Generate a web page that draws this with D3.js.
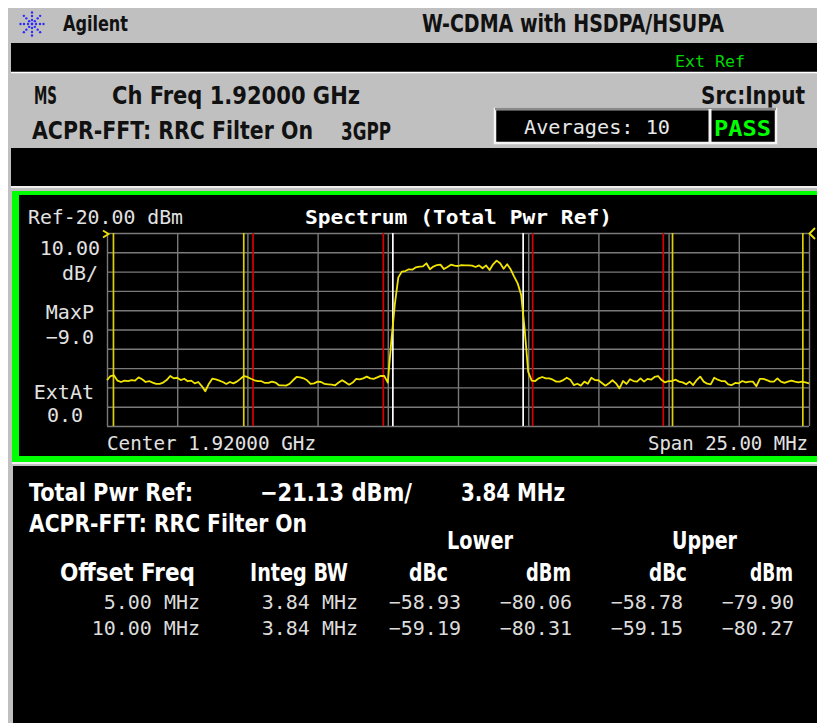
<!DOCTYPE html>
<html>
<head>
<meta charset="utf-8">
<script src="https://cdn.jsdelivr.net/npm/d3@7"></script>
<style>
  body { margin: 0; background: #fff; }
  svg { display: block; }
  .mono { font-family: "DejaVu Sans Mono", "Liberation Mono", monospace; font-size: 20px; fill: #e2e2e2; }
  .monob { font-family: "DejaVu Sans Mono", "Liberation Mono", monospace; font-size: 20px; font-weight: bold; fill: #fff; }
  .cond { font-family: "Liberation Sans Narrow", "DejaVu Sans Condensed", "Arial Narrow", "Liberation Sans", sans-serif; font-weight: bold; font-size: 24px; }
</style>
</head>
<body>
<script>
var width = 817, height = 723;

// spectrum trace in dBm, one point every 0.125 MHz from -12.5 to +12.5 MHz offset
var traceStart = -12.5, traceStep = 0.125;
var traceLevels = [
  -96.2, -94.1, -93.8, -96.5, -97.2, -96.5, -96.7, -96.2, -96.5, -94.8,
  -95.8, -97.2, -96.7, -97.5, -98.2, -98.2, -97.5, -96.2, -94.1, -95.3,
  -95.0, -96.2, -95.5, -96.8, -96.5, -97.9, -97.2, -99.3, -102.0, -98.2,
  -95.5, -95.8, -96.5, -97.2, -98.2, -97.2, -97.9, -97.0, -95.6, -94.1,
  -94.6, -95.5, -96.3, -96.8, -96.8, -97.7, -97.7, -97.0, -97.5, -98.9,
  -98.9, -99.1, -98.2, -96.3, -94.6, -94.8, -95.3, -96.3, -98.2, -97.9,
  -97.0, -97.2, -98.2, -98.4, -98.6, -98.9, -97.5, -96.3, -97.4, -98.6,
  -97.5, -95.6, -95.8, -95.3, -94.4, -95.3, -95.6, -94.8, -94.0, -94.1,
  -97.5,
  -76.0, -57.0, -43.0, -40.0, -39.7, -38.8, -39.0, -37.8, -37.4, -37.3,
  -35.7, -38.8, -37.4, -36.6, -36.4, -38.7, -37.6, -36.4, -36.9, -37.1,
  -36.6, -36.8, -36.8, -36.9, -37.6, -36.8, -38.3, -36.8, -39.2, -36.2,
  -34.3, -35.7, -38.5, -36.2, -38.8, -42.6, -46.1, -52.1, -70.0, -92.0,
  -96.5, -96.7, -95.3, -94.6, -95.3, -95.3, -96.0, -97.0, -97.0, -96.2,
  -95.0, -96.0, -98.8, -98.1, -99.1, -97.0, -98.1, -95.0, -96.2, -96.3,
  -97.7, -99.1, -97.9, -96.3, -97.9, -100.5, -96.7, -98.2, -95.8, -96.7,
  -97.0, -95.3, -97.0, -95.6, -96.0, -94.6, -94.1, -96.2, -97.4, -96.7,
  -96.7, -96.0, -97.0, -97.4, -98.4, -97.0, -98.8, -96.2, -94.4, -97.0,
  -98.1, -98.4, -95.0, -96.0, -96.7, -96.7, -98.4, -98.8, -97.7, -97.9,
  -96.7, -97.4, -97.0, -97.0, -99.4, -95.6, -95.6, -96.2, -97.0, -97.0,
  -95.3, -97.0, -97.7, -97.0, -96.5, -97.0, -97.4, -97.0, -97.4, -97.9
];

var refLevel = -20, dbPerDiv = 10, yDivs = 10;
var spanMHz = 25, xDivs = 10;

// integration band edges, MHz from center
var bandFreqs = [-12.27, -7.63, -7.30, -2.66, -2.32, 2.32, 2.66, 7.31, 7.64, 12.28];
var bandKinds = ["adj2", "adj2", "adj1", "adj1", "main", "main", "adj1", "adj1", "adj2", "adj2"];

// results table
var offsetFreq = ["5.00 MHz", "10.00 MHz"];
var integBw = ["3.84 MHz", "3.84 MHz"];
var lowerDbc = [-58.93, -59.19];
var lowerDbm = [-80.06, -80.31];
var upperDbc = [-58.78, -59.15];
var upperDbm = [-79.90, -80.27];

var svg = d3.select("body").append("svg")
    .attr("width", width)
    .attr("height", height);

function label(parent, x, y, s, cls, w, fill) {
  var t = parent.append("text")
      .attr("x", x).attr("y", y)
      .attr("class", cls)
      .text(s);
  if (w) t.attr("textLength", w).attr("lengthAdjust", "spacingAndGlyphs");
  if (fill) t.style("fill", fill);
  return t;
}

// instrument frame
svg.append("rect").attr("x", 8).attr("y", 8).attr("width", width - 8).attr("height", height - 8).attr("fill", "#c0c0c0");

// star logo
var logo = svg.append("g").attr("transform", "translate(32,24)");
d3.range(8).forEach(function(k) {
  var a = k * Math.PI / 4;
  [4, 8, 11.5].forEach(function(r) {
    logo.append("circle").attr("cx", r * Math.cos(a)).attr("cy", r * Math.sin(a)).attr("r", 1.2).attr("fill", "#2a2aff");
  });
});
logo.append("circle").attr("r", 1.4).attr("fill", "#2a2aff");

label(svg, 63, 31, "Agilent", "cond", 65, "#111").style("font-size", "22px");
label(svg, 422, 32, "W-CDMA with HSDPA/HSUPA", "cond", 302, "#111");

// black status bars
svg.append("rect").attr("x", 11).attr("y", 43).attr("width", width - 11).attr("height", 29).attr("fill", "#000");
svg.append("line").attr("x1", 11).attr("x2", width).attr("y1", 72.5).attr("y2", 72.5).attr("stroke", "#fff").attr("stroke-width", 1.5);
label(svg, 675, 67, "Ext Ref", "mono", 70, "#00d800").style("font-size", "16px");

label(svg, 34, 104, "MS", "cond", 23, "#111");
label(svg, 112, 104, "Ch Freq 1.92000 GHz", "cond", 248, "#111");
label(svg, 701, 104, "Src:Input", "cond", 104, "#111");
label(svg, 32, 139, "ACPR-FFT: RRC Filter On", "cond", 281, "#111");
label(svg, 341, 140, "3GPP", "cond", 50, "#111");

// averages / pass boxes
svg.append("rect").attr("x", 495).attr("y", 109).attr("width", 281).attr("height", 34)
    .attr("fill", "#000").attr("stroke", "#f4f4f4").attr("stroke-width", 2.5);
svg.append("line").attr("x1", 495).attr("x2", 776).attr("y1", 109).attr("y2", 109).attr("stroke", "#8a8a8a").attr("stroke-width", 2.5);
svg.append("line").attr("x1", 710).attr("x2", 710).attr("y1", 109).attr("y2", 143).attr("stroke", "#f4f4f4").attr("stroke-width", 3);
label(svg, 524, 134, "Averages: 10", "mono", 146, "#e8e8e8");
label(svg, 714, 136, "PASS", "monob", 57, "#00ff00").style("font-size", "21px");

svg.append("rect").attr("x", 11).attr("y", 148).attr("width", width - 11).attr("height", 38).attr("fill", "#000");
svg.append("line").attr("x1", 11).attr("x2", width).attr("y1", 187).attr("y2", 187).attr("stroke", "#fff").attr("stroke-width", 1.5);

// plot panel
svg.append("rect").attr("x", 12).attr("y", 191).attr("width", width - 12).attr("height", 271).attr("fill", "#00ff00");
svg.append("rect").attr("x", 19).attr("y", 195).attr("width", width - 19).attr("height", 261).attr("fill", "#000");
svg.append("line").attr("x1", 12).attr("x2", width).attr("y1", 463).attr("y2", 463).attr("stroke", "#fff").attr("stroke-width", 1.5);

var plotL = 107, plotR = 809, plotT = 233, plotB = 426;
var x = d3.scaleLinear().domain([-spanMHz / 2, spanMHz / 2]).range([plotL, plotR]);
var y = d3.scaleLinear().domain([refLevel - dbPerDiv * yDivs, refLevel]).range([plotB, plotT]);

var gridX = d3.axisBottom(x)
    .tickValues(d3.range(xDivs + 1).map(function(i) { return -spanMHz / 2 + i * spanMHz / xDivs; }))
    .tickSize(-(plotB - plotT))
    .tickFormat("");
var gridY = d3.axisLeft(y)
    .tickValues(d3.range(yDivs + 1).map(function(i) { return refLevel - i * dbPerDiv; }))
    .tickSize(-(plotR - plotL))
    .tickFormat("");

svg.append("g").attr("class", "grid").attr("transform", "translate(0," + plotB + ")").call(gridX);
svg.append("g").attr("class", "grid").attr("transform", "translate(" + plotL + ",0)").call(gridY);
svg.selectAll(".grid .domain").remove();
svg.selectAll(".grid line").attr("stroke", "#7a7a7a").attr("stroke-width", 1.4);

var bandColor = { main: "#ffffff", adj1: "#d80000", adj2: "#dcd000" };
svg.append("g").selectAll("line")
    .data(bandFreqs)
    .enter()
    .append("line")
    .attr("x1", function(d) { return x(d); })
    .attr("x2", function(d) { return x(d); })
    .attr("y1", plotT)
    .attr("y2", plotB)
    .attr("stroke", function(d, i) { return bandColor[bandKinds[i]]; })
    .attr("stroke-width", 1.7);

var line = d3.line()
    .x(function(d, i) { return x(traceStart + i * traceStep); })
    .y(function(d) { return y(d); });

svg.append("path")
    .datum(traceLevels)
    .attr("d", line)
    .attr("fill", "none")
    .attr("stroke", "#f0e400")
    .attr("stroke-width", 1.8)
    .attr("stroke-linejoin", "round");

// reference level arrows
svg.append("path").attr("d", "M103,230.5 L108.5,234 L103,237.5").attr("fill", "none").attr("stroke", "#f0e400").attr("stroke-width", 1.8);
svg.append("path").attr("d", "M815,228 L809.5,233.5 L815,239").attr("fill", "none").attr("stroke", "#f0e400").attr("stroke-width", 1.8);

label(svg, 28, 224, "Ref-20.00 dBm", "mono", 155);
label(svg, 305, 224, "Spectrum  (Total Pwr Ref)", "monob", 307);
label(svg, 100, 255, "10.00", "mono").attr("text-anchor", "end");
label(svg, 98, 280, "dB/", "mono").attr("text-anchor", "end");
label(svg, 94, 319, "MaxP", "mono").attr("text-anchor", "end");
label(svg, 94, 344, "\u22129.0", "mono").attr("text-anchor", "end");
label(svg, 94, 399, "ExtAt", "mono").attr("text-anchor", "end");
label(svg, 47, 422, "0.0", "mono");
label(svg, 107, 450, "Center 1.92000 GHz", "mono", 209);
label(svg, 648, 450, "Span 25.00 MHz", "mono", 160);

// results panel
svg.append("rect").attr("x", 13).attr("y", 466).attr("width", width - 13).attr("height", height - 466).attr("fill", "#000");

label(svg, 29, 501, "Total Pwr Ref:", "cond", 164, "#fff");
label(svg, 260, 501, "\u221221.13 dBm/", "cond", 152, "#fff");
label(svg, 461, 501, "3.84 MHz", "cond", 104, "#fff");
label(svg, 29, 532, "ACPR-FFT: RRC Filter On", "cond", 278, "#fff");
label(svg, 447, 549, "Lower", "cond", 66, "#fff");
label(svg, 672, 549, "Upper", "cond", 65, "#fff");

var headers = ["Offset Freq", "Integ BW", "dBc", "dBm", "dBc", "dBm"];
var headerLeft = [60, 250, 409, 526, 649, 750];
var headerW = [135, 98, 39, 45, 38, 43];
headers.forEach(function(h, i) {
  label(svg, headerLeft[i], 581, h, "cond", headerW[i], "#fff");
});

var fmt = d3.format(".2f");
var colRight = [200, 358, 461, 572, 683, 794];
offsetFreq.forEach(function(f, r) {
  var yy = 609 + r * 26;
  var cells = [f, integBw[r], fmt(lowerDbc[r]), fmt(lowerDbm[r]), fmt(upperDbc[r]), fmt(upperDbm[r])];
  cells.forEach(function(c, k) {
    label(svg, colRight[k], yy, c, "mono", null, "#dcdcdc").attr("text-anchor", "end");
  });
});
</script>
</body>
</html>
